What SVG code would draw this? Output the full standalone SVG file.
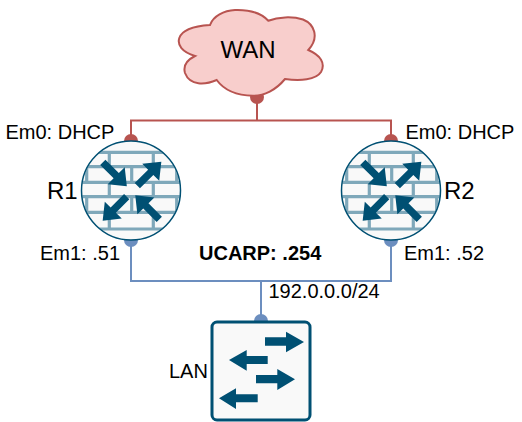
<svg xmlns="http://www.w3.org/2000/svg" width="522" height="422" viewBox="0 0 522 422">
<style>
text{font-family:"Liberation Sans",Arial,sans-serif;font-size:20px;fill:#000}
.big{font-size:24px}
.b{font-weight:bold}
.m{text-anchor:middle}
.red{stroke:#b85450;stroke-width:2;fill:none}
.blue{stroke:#6c8ebf;stroke-width:2;fill:none}
.brick{stroke:#7fa8ba;stroke-width:3.2;fill:none}
.ar{fill:#005073}
</style>
<defs>
<clipPath id="fwclip"><circle cx="0" cy="0" r="49"/></clipPath>
<polygon id="arr" points="0,-3.7 19,-3.7 19,-12 34,0 19,12 19,3.7 0,3.7"/>
<g id="fw">
<circle cx="0" cy="0" r="49.5" fill="#f9f9f9"/>
<g clip-path="url(#fwclip)" class="brick">
<path d="M-50-38.2H50M-50-23.8H50M-50-8.2H50M-50 6.2H50M-50 21.8H50M-50 38.5H50"/>
<path d="M-21.7-38.2V-23.8M22.3-38.2V-23.8M-44.3-23.800V-8.200M.7-23.800V-8.200M45.7-23.800V-8.200M-21.7-8.200V6.200M22.3-8.200V6.200M-44.3 6.200V21.800M.7 6.200V21.800M45.7 6.200V21.800M-21.7 21.800V38.500M22.3 21.800V38.500"/>
</g>
<circle cx="0" cy="0" r="49.5" fill="none" stroke="#005073" stroke-width="1.5"/>
<use href="#arr" class="ar" transform="translate(-28.2,-28.2) rotate(45)"/>
<use href="#arr" class="ar" transform="translate(6.3,-4.800) rotate(-45)"/>
<use href="#arr" class="ar" transform="translate(-4.300,6.200) rotate(135)"/>
<use href="#arr" class="ar" transform="translate(28.300,28.800) rotate(-135)"/>
</g>
</defs>
<g id="connectors">
<path class="red" d="M131 141V120.500H391V141M257 98V120.500"/>
<path class="blue" d="M131 240V281H391V240M261 281V321"/>
<circle cx="257" cy="97" r="7" fill="#b85450"/>
<circle cx="131" cy="141" r="7" fill="#b85450"/>
<circle cx="391" cy="141" r="7" fill="#b85450"/>
<circle cx="131" cy="240" r="7" fill="#6c8ebf"/>
<circle cx="391" cy="240" r="7" fill="#6c8ebf"/>
<circle cx="261" cy="321" r="7" fill="#6c8ebf"/>
</g>
<g id="wan">
<path d="M210 25C213 16 224 10.500 235 10C250 9.500 262 14 268.300 20.700C278 17 292 16 303 19.500C314 24 320 37 308.300 50C320 55 326 63 321 72C316 80 300 81 285 79C276 90 264 96 253 95.700C237 95.500 224 90 216.700 80C205 85 190 86 185 73C183 66 187 60 195 56C182 52 177 45 179.300 38C182 30 195 26 210 25Z" fill="#f8cecc" stroke="#b85450" stroke-width="2"/>
<text class="big m" x="248" y="58">WAN</text>
</g>
<g id="r1">
<use href="#fw" x="131" y="190.500"/>
<text class="big" x="47" y="199">R1</text>
<text x="5.500" y="138.500">Em0: DHCP</text>
<text x="40" y="260">Em1: .51</text>
</g>
<g id="r2">
<use href="#fw" x="391" y="190.500"/>
<text class="big" x="444" y="199">R2</text>
<text x="405.500" y="138.500">Em0: DHCP</text>
<text x="404" y="260">Em1: .52</text>
</g>
<g id="ucarp"><text class="b" x="199" y="260">UCARP: .254</text></g>
<g id="subnet"><text x="268.500" y="297.500">192.0.0.0/24</text></g>
<g id="lan">
<rect x="212" y="322" width="98" height="98" rx="5" fill="#f9f9f9" stroke="#005073" stroke-width="3"/>
<path class="ar" d="M265 337.300H286V331.700L304 342L286 352.300V345.700H265Z"/>
<path class="ar" d="M267.700 356V364H246.700V370.700L229 360L246.700 350V356Z"/>
<path class="ar" d="M256 375H277.300V369L295 379.300L277.300 390V383.300H256Z"/>
<path class="ar" d="M257.700 394.300V402.300H236V409L219 398.300L236 388.300V394.300Z"/>
<text x="169" y="378">LAN</text>
</g>
</svg>
